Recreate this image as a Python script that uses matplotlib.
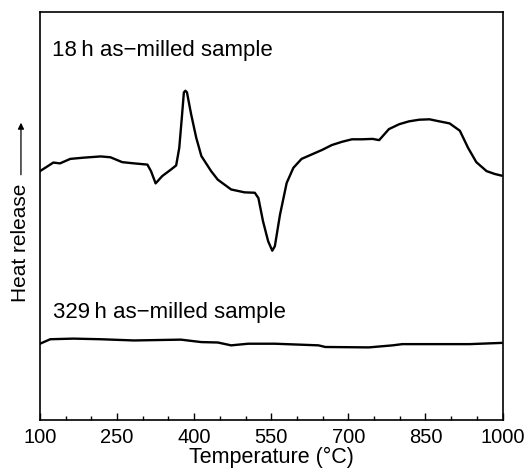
import matplotlib
matplotlib.use("Agg")
import matplotlib.pyplot as plt
from matplotlib.ticker import MultipleLocator

plt.rcParams['font.family'] = ['Liberation Sans', 'DejaVu Sans']

# 18 h as-milled sample (temperature in C, heat release in arbitrary units)
t_18h = [100, 110, 126, 139, 159, 185, 218, 237, 260, 283, 309, 316, 325, 338,
         355, 365, 371, 376, 380, 383, 386, 394, 404, 414, 433, 446, 472, 498,
         518, 525, 534, 544, 552, 557, 567, 580, 593, 609, 629, 649, 668, 688,
         707, 727, 747, 760, 779, 799, 818, 838, 858, 877, 897, 917, 933, 949,
         969, 985, 998]
q_18h = [61.0, 61.8, 63.1, 62.9, 64.0, 64.3, 64.6, 64.4, 63.2, 62.9, 62.6, 61.0,
         58.0, 59.8, 61.4, 62.4, 66.7, 74.1, 80.3, 80.7, 80.3, 75.0, 69.2, 64.7,
         61.0, 58.9, 56.5, 55.8, 55.7, 54.4, 48.7, 43.8, 41.5, 42.6, 50.3, 58.1,
         61.8, 64.0, 65.1, 66.2, 67.4, 68.2, 68.8, 68.8, 68.9, 68.6, 71.3, 72.5,
         73.2, 73.6, 73.7, 73.2, 72.7, 70.9, 66.7, 63.2, 61.0, 60.3, 59.9]

# 329 h as-milled sample
t_329h = [100, 120, 165, 218, 283, 374, 414, 446, 472, 505, 557, 642, 655, 740,
          786, 805, 936, 998]
q_329h = [18.7, 19.8, 19.95, 19.8, 19.5, 19.7, 19.1, 19.0, 18.3, 18.7, 18.7,
          18.3, 17.9, 17.8, 18.3, 18.6, 18.6, 18.9]

x_ticks = [100, 250, 400, 550, 700, 850, 1000]

fig = plt.figure(figsize=(5.24, 4.76), dpi=100)
ax = fig.add_axes([0.0763, 0.1176, 0.8827, 0.8572])

ax.plot(t_18h, q_18h, color='black', lw=1.7)
ax.plot(t_329h, q_329h, color='black', lw=1.7)

ax.set_xlim(100, 1000)
ax.set_ylim(0, 100)
ax.set_xticks(x_ticks)
ax.xaxis.set_minor_locator(MultipleLocator(50))
ax.tick_params(axis='x', which='major', direction='in', length=5, width=1,
               labelsize=14.5, pad=6)
ax.tick_params(axis='x', which='minor', direction='in', length=3, width=1)
ax.set_yticks([])
for s in ax.spines.values():
    s.set_linewidth(1.2)

ax.set_xlabel('Temperature (°C)', fontsize=15.5, labelpad=0)

ax.text(0.026, 0.905, '18\u2009h as\u2212milled sample', transform=ax.transAxes,
        fontsize=16, va='center', ha='left')
ax.text(0.029, 0.263, '329\u2009h as\u2212milled sample', transform=ax.transAxes,
        fontsize=16, va='center', ha='left')

# y label with arrow
fig.text(0.040, 0.489, 'Heat release', rotation=90, fontsize=15,
         ha='center', va='center')
fig.add_artist(plt.matplotlib.patches.FancyArrowPatch(
    (0.040, 0.627), (0.040, 0.748), transform=fig.transFigure,
    arrowstyle='-|>', mutation_scale=9, lw=0.9, color='black'))

fig.savefig('out.png', dpi=100)
